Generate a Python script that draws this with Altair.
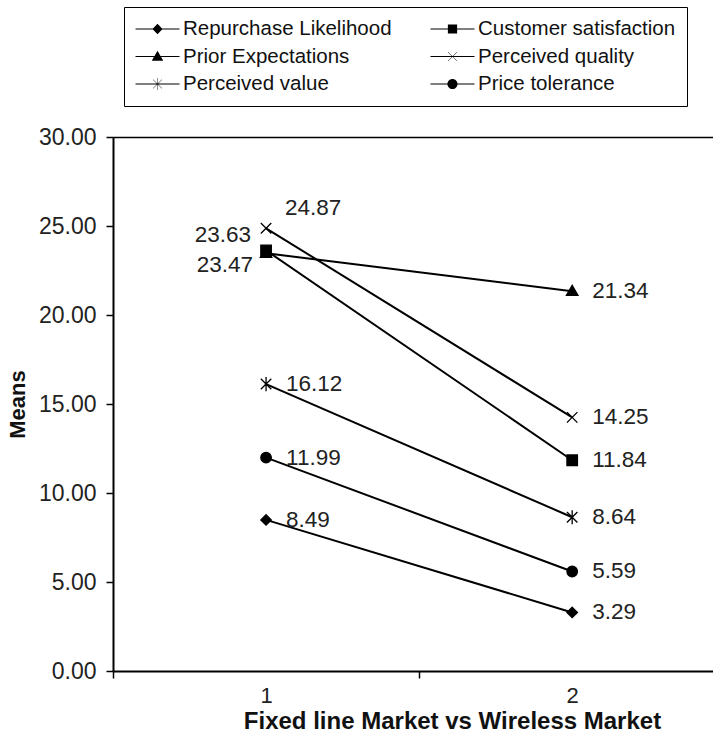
import math

import altair as alt
import pandas as pd

# Means per construct for the two markets
series = [
    "Repurchase Likelihood",
    "Customer satisfaction",
    "Prior Expectations",
    "Perceived quality",
    "Perceived value",
    "Price tolerance",
]
fixed_line = [8.49, 23.63, 23.47, 24.87, 16.12, 11.99]
wireless = [3.29, 11.84, 21.34, 14.25, 8.64, 5.59]
markets = [1, 2]
y_ticks = [0, 5, 10, 15, 20, 25, 30]
x_ticks = [0.5, 1, 1.5, 2]

rows = []
for name, a, b in zip(series, fixed_line, wireless):
    rows.append({"series": name, "market": markets[0], "mean": a})
    rows.append({"series": name, "market": markets[1], "mean": b})
df = pd.DataFrame(rows)

# marker glyphs (unit square paths), one per series
marker_paths = [
    "M0,-1L1,0L0,1L-1,0Z",
    "M-1,-1L1,-1L1,1L-1,1Z",
    "M0,-1.1L1.1,0.8L-1.1,0.8Z",
    "M-1,-1L1,1M-1,1L1,-1",
    "M-1,-1L1,1M-1,1L1,-1M0,-1.35L0,1.35",
    "M1,0A1,1 0 1,1 -1,0A1,1 0 1,1 1,0Z",
]


def seg(x1, y1, x2, y2, w):
    """Thin filled bar from (x1, y1) to (x2, y2), drawn clockwise."""
    dx, dy = x2 - x1, y2 - y1
    length = math.hypot(dx, dy)
    mx, my = dy / length * w / 2, -dx / length * w / 2
    pts = [(x1 + mx, y1 + my), (x2 + mx, y2 + my), (x2 - mx, y2 - my), (x1 - mx, y1 - my)]
    return "M" + "L".join(f"{px:.4f},{py:.4f}" for px, py in pts) + "Z"


# legend glyphs: a short line with the marker in its middle (all filled shapes)
stub = seg(-1, 0, 1, 0, 0.045)
arm = 0.02
cross = seg(-0.2, -0.2, 0.2, 0.2, arm) + seg(-0.2, 0.2, 0.2, -0.2, arm)
legend_paths = [
    stub + "M0,-0.24L0.23,0L0,0.24L-0.23,0Z",
    stub + "M-0.21,-0.21L0.21,-0.21L0.21,0.21L-0.21,0.21Z",
    stub + "M0,-0.26L0.26,0.19L-0.26,0.19Z",
    stub + cross,
    stub + cross + seg(0, -0.27, 0, 0.27, arm),
    stub + "M0.23,0A0.23,0.23 0 1,1 -0.23,0A0.23,0.23 0 1,1 0.23,0Z",
]

# the legend fills column by column; read the series across rows of two
n_cols = 2
legend_idx = [i for c in range(n_cols) for i in range(c, len(series), n_cols)]
legend_domain = [series[i] for i in legend_idx]
legend_range = [legend_paths[i] for i in legend_idx]

FONT = "Liberation Sans"

x_scale = alt.Scale(domain=[0.5, 2.46], nice=False, zero=False)
y_scale = alt.Scale(domain=[0, 30], nice=False)

y_axis = alt.Axis(
    values=y_ticks,
    format=".2f",
    grid=False,
    tickSize=7,
    tickWidth=1.5,
    tickColor="black",
    domainColor="black",
    domainWidth=2,
    labelPadding=10,
    labelFontSize=23,
    labelColor="#222",
    labelFont=FONT,
    title="Means",
    titleFont=FONT,
    titleFontSize=22,
    titleFontWeight="bold",
    titleColor="#111",
    titlePadding=9,
)

bottom_axis = alt.Axis(
    values=x_ticks,
    labelExpr="datum.value % 1 === 0 ? format(datum.value, 'd') : ''",
    tickOpacity={"condition": {"test": "datum.value % 1 !== 0", "value": 1}, "value": 0},
    grid=False,
    tickSize=7,
    tickWidth=1.5,
    tickColor="black",
    domainColor="black",
    domainWidth=2,
    labelPadding=7,
    labelFontSize=22,
    labelColor="#222",
    labelFont=FONT,
    title="Fixed line Market vs Wireless Market",
    titleFont=FONT,
    titleFontSize=24,
    titleFontWeight="bold",
    titleColor="#111",
    titlePadding=3,
    titleX=339,
    titleAlign="center",
)

top_axis = alt.Axis(
    orient="top",
    labels=False,
    ticks=False,
    grid=False,
    title=None,
    domainColor="black",
    domainWidth=1.5,
)

base = alt.Chart(df)

lines = base.mark_line(color="black", strokeWidth=2).encode(
    x=alt.X("market:Q", scale=x_scale, axis=bottom_axis),
    y=alt.Y("mean:Q", scale=y_scale, axis=y_axis),
    detail="series:N",
)

points = base.mark_point(
    fill="black", stroke="black", strokeWidth=1.3, opacity=1, size=110
).encode(
    x=alt.X("market:Q", scale=x_scale, axis=top_axis),
    y=alt.Y("mean:Q", scale=y_scale, axis=y_axis),
    shape=alt.Shape(
        "series:N",
        scale=alt.Scale(domain=series, range=marker_paths),
        legend=None,
    ),
)

legend_layer = base.mark_point(fill="black", opacity=1).encode(
    shape=alt.Shape(
        "series:N",
        scale=alt.Scale(domain=legend_domain, range=legend_range),
        legend=alt.Legend(
            title=None,
            orient="none",
            legendX=11,
            legendY=-130,
            columns=n_cols,
            columnPadding=38,
            rowPadding=5.5,
            clipHeight=22,
            padding=11,
            symbolSize=1936,
            symbolFillColor="black",
            symbolStrokeColor="black",
            symbolStrokeWidth=1,
            symbolOpacity=1,
            labelFont=FONT,
            labelFontSize=20.5,
            labelColor="#111",
            labelOffset=3,
            labelLimit=400,
            strokeColor="black",
            fillColor="white",
            cornerRadius=0,
        ),
    ),
).transform_filter("false")

special = (
    "(datum.market == 1 && (datum.series == 'Perceived quality' || "
    "datum.series == 'Customer satisfaction' || datum.series == 'Prior Expectations'))"
)

text_style = dict(font=FONT, fontSize=22.5, color="#222", baseline="middle")


def value_text(flt, **mark_kw):
    kw = dict(text_style)
    kw.update(mark_kw)
    return (
        base.mark_text(**kw)
        .encode(
            x=alt.X("market:Q", scale=x_scale, axis=None),
            y=alt.Y("mean:Q", scale=y_scale, axis=y_axis),
            text=alt.Text("mean:Q", format=".2f"),
        )
        .transform_filter(flt)
    )


labels_right = value_text("!" + special, align="left", dx=20)
label_quality = value_text(
    "datum.market == 1 && datum.series == 'Perceived quality'", align="left", dx=19, dy=-20
)
label_satisfaction = value_text(
    "datum.market == 1 && datum.series == 'Customer satisfaction'", align="right", dx=-15, dy=-15
)
label_expectations = value_text(
    "datum.market == 1 && datum.series == 'Prior Expectations'", align="right", dx=-13, dy=12
)

chart = (
    alt.layer(
        lines,
        points,
        legend_layer,
        labels_right,
        label_quality,
        label_satisfaction,
        label_expectations,
    )
    .resolve_scale(shape="independent")
    .resolve_axis(x="independent")
    .properties(
        width=600,
        height=534,
        autosize=alt.AutoSizeParams(type="none"),
        padding={"left": 113, "top": 137, "right": 0, "bottom": 64},
        background="white",
    )
    .configure_view(stroke=None)
)

chart.save("out.html", embed_options={"renderer": "svg", "actions": False})
